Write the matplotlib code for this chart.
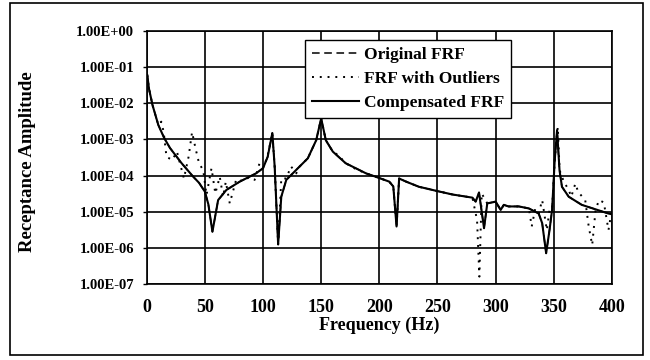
import matplotlib
matplotlib.use('Agg')
import matplotlib.pyplot as plt
from matplotlib.patches import Rectangle

plt.rcParams['font.family'] = ['Liberation Serif', 'DejaVu Serif']
plt.rcParams['font.weight'] = 'bold'

# Compensated FRF (solid line)
freq_comp = [0.5, 2, 5, 10, 15, 20, 30, 40, 45, 50, 53, 56.5, 61.4, 68.5, 80, 94,
             100, 104, 108, 110, 113, 115.7, 120, 130, 138.5, 145.7, 150, 154, 160,
             171, 188.6, 198.5, 208.5, 212, 214.8, 217, 223, 234, 243, 248.6, 262.8,
             280, 282.8, 285.7, 290, 292.8, 300, 304.3, 307, 311, 320, 328.6, 337,
             340, 343.4, 346.3, 348.5, 350.8, 352.8, 354.9, 357, 362.8, 374, 385.7,
             397, 400]
amp_comp = [6.0e-2, 2.5e-2, 8.9e-3, 2.5e-3, 1.1e-3, 5.8e-4, 2.2e-4, 9.3e-5, 6.3e-5,
            3.6e-5, 1.6e-5, 2.8e-6, 2.1e-5, 4.0e-5, 6.8e-5, 1.15e-4,
            1.6e-4, 3.3e-4, 1.5e-3, 1.8e-4, 1.25e-6, 2.6e-5, 7.6e-5, 1.6e-4, 3.0e-4,
            9.5e-4, 3.8e-3, 9.5e-4, 4.6e-4,
            2.2e-4, 1.15e-4, 8.9e-5, 6.8e-5, 5.0e-5, 3.9e-6, 8.3e-5, 6.8e-5, 4.9e-5,
            4.2e-5, 3.8e-5, 3.0e-5,
            2.45e-5, 1.9e-5, 3.4e-5, 3.5e-6, 1.7e-5, 1.9e-5, 1.12e-5, 1.55e-5, 1.4e-5,
            1.4e-5, 1.23e-5, 8.9e-6,
            4.8e-6, 7.1e-7, 3.1e-6, 1.12e-5, 2.7e-4, 1.8e-3, 1.4e-4, 4.9e-5, 2.6e-5,
            1.55e-5, 1.17e-5, 8.9e-6, 8.5e-6]

# Original FRF (dashed) lies on top of the compensated curve
freq_orig = list(freq_comp)
amp_orig = list(amp_comp)

# FRF with outliers (dotted)
freq_out = [0.5, 2, 5, 10, 12.5, 14.6, 17, 22, 26, 32, 36, 39, 42, 45, 48.6, 51.4,
            55.7, 59, 62.8, 65.7, 68, 71.4, 77, 83, 88, 92.8, 97, 100, 103.7, 108,
            110, 113, 115.7, 120, 124, 128.6, 130, 138.5, 145.7, 150, 154, 160, 165,
            171, 180, 188.6, 198.5, 208.5, 212, 214.8, 217, 223, 234, 243, 248.6,
            262.8, 280, 284, 286, 288, 292.8, 300, 304.3, 307, 311, 320, 328.6, 331,
            334, 337, 340, 344, 346.3, 348.5, 350.8, 353.4, 355, 358.6, 362.8, 365,
            368.5, 371, 377, 380, 383, 386, 389, 393, 397, 400]
amp_out = [6.0e-2, 2.5e-2, 8.9e-3, 2.5e-3, 3.1e-3, 1.6e-3, 3.3e-4, 2.7e-4, 4.6e-4,
           8.3e-5, 3.3e-4, 1.6e-3, 5.6e-4, 2.2e-4, 1.4e-4, 2.9e-5,
           1.6e-4, 3.2e-5, 9.3e-5, 2.6e-5, 6.8e-5, 1.7e-5, 7.9e-5, 7.0e-5, 9.0e-5,
           7.6e-5, 2.2e-4, 1.6e-4, 3.3e-4, 1.5e-3,
           1.8e-4, 1.25e-6, 8.3e-5, 8.3e-5, 1.8e-4, 1.15e-4, 1.6e-4, 3.0e-4, 9.5e-4,
           3.8e-3, 9.5e-4, 4.6e-4, 3.6e-4,
           2.2e-4, 1.5e-4, 1.15e-4, 8.9e-5, 6.8e-5, 5.0e-5, 3.9e-6, 8.3e-5, 6.8e-5,
           4.9e-5, 4.2e-5, 3.8e-5,
           3.0e-5, 2.45e-5, 5.9e-6, 1.6e-7, 3.2e-5, 1.7e-5, 1.9e-5, 1.12e-5, 1.55e-5,
           1.4e-5, 1.4e-5, 1.23e-5, 3.9e-6,
           1.2e-5, 8.9e-6, 2.1e-5, 3.1e-6, 1.12e-5, 1.12e-5, 2.7e-4, 2.2e-3, 1.4e-4,
           6.8e-5, 4.0e-5, 2.6e-5,
           6.0e-5, 3.5e-5, 2.1e-5, 3.9e-6, 1.2e-6, 1.2e-5, 2.1e-5, 1.8e-5, 3.1e-6,
           1.2e-5]

y_ticks = [1e0, 1e-1, 1e-2, 1e-3, 1e-4, 1e-5, 1e-6, 1e-7]
y_labels = ['1.00E+00', '1.00E-01', '1.00E-02', '1.00E-03', '1.00E-04',
            '1.00E-05', '1.00E-06', '1.00E-07']
x_ticks = [0, 50, 100, 150, 200, 250, 300, 350, 400]

fig = plt.figure(figsize=(6.5, 3.6), dpi=100)
ax = fig.add_axes([0.2257, 0.2111, 0.7158, 0.7028])

ax.plot(freq_orig, amp_orig, color='black', linestyle=(0, (5, 3)), linewidth=1.1, label='Original FRF')
ax.plot(freq_out, amp_out, color='black', linestyle=(0, (1, 3)), linewidth=1.4, label='FRF with Outliers')
ax.plot(freq_comp, amp_comp, color='black', linestyle='-', linewidth=1.5, label='Compensated FRF')

ax.set_yscale('log')
ax.set_xlim(0, 400)
ax.set_ylim(1e-7, 1e0)
ax.set_xticks(x_ticks)
ax.set_xticklabels([str(t) for t in x_ticks], fontsize=13, fontweight='bold')
ax.set_yticks(y_ticks)
ax.set_yticklabels(y_labels, fontsize=10.5, fontweight='bold')
ax.minorticks_off()
ax.tick_params(axis='x', length=0, pad=11)
ax.tick_params(axis='y', length=3, width=1, pad=6, direction='out')
ax.grid(True, color='black', linewidth=1.2)
for s in ax.spines.values():
    s.set_linewidth(1.2)

ax.set_xlabel('Frequency (Hz)', fontsize=13, fontweight='bold', labelpad=0)
fig.text(0.042, 0.55, 'Receptance Amplitude', rotation=90, fontsize=13.5,
         fontweight='bold', ha='center', va='center')

leg = ax.legend(loc='upper left', bbox_to_anchor=(0.34, 0.964), fancybox=False,
                edgecolor='black', framealpha=1, fontsize=12.5, handlelength=2.7,
                borderpad=0.4, labelspacing=0.45, handletextpad=0.3, borderaxespad=0)
leg.get_frame().set_linewidth(1.0)

# outer frame around the whole chart
fig.patches.append(Rectangle((0.0154, 0.0139), 0.974, 0.978, transform=fig.transFigure,
                             fill=False, edgecolor='black', linewidth=1.2))

fig.savefig('out.png', dpi=100)
